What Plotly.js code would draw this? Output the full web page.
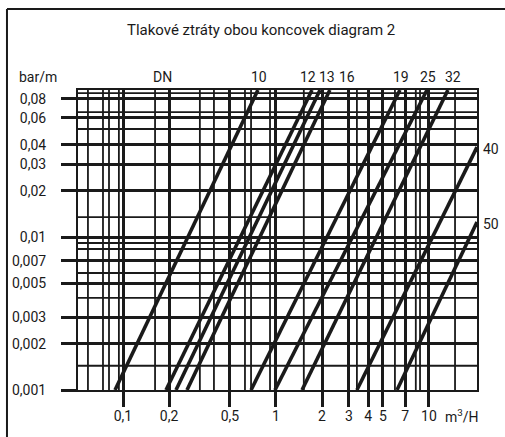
<!DOCTYPE html>
<html>
<head>
<meta charset="utf-8">
<script src="https://cdn.plot.ly/plotly-3.0.1.min.js"></script>
<style>html,body{margin:0;padding:0;background:#fff;}#chart{width:505px;height:437px;}</style>
</head>
<body>
<div id="chart"></div>
<script>
// Series: DN pipe sizes, each a straight line on log-log (flow m3/H vs loss bar/m)
const dnLabels = ['10', '12', '13', '16', '19', '25', '32', '40', '50'];
const flowStart = [0.0887, 0.191, 0.222, 0.262, 0.687, 0.985, 1.48, 3.38, 6.18];
const lossStart = [0.001, 0.001, 0.001, 0.001, 0.001, 0.001, 0.001, 0.001, 0.001];
const flowEnd = [0.762, 1.72, 1.94, 2.25, 6.46, 9.70, 13.3, 20.6, 20.6];
const lossEnd = [0.0914, 0.0914, 0.0914, 0.0914, 0.0914, 0.0914, 0.0914, 0.0387, 0.01253];

// Axis ticks
const xTickVals = [0.1, 0.2, 0.5, 1, 2, 3, 4, 5, 7, 10];
const xTickText = ['0,1', '0,2', '0,5', '1', '2', '3', '4', '5', '7', '10'];
const yTickVals = [0.001, 0.002, 0.003, 0.005, 0.007, 0.01, 0.02, 0.03, 0.04, 0.06, 0.08];
const yTickText = ['0,001', '0,002', '0,003', '0,005', '0,007', '0,01', '0,02', '0,03', '0,04', '0,06', '0,08'];
// Thin grid lines
const xMinorVals = [0.059, 0.074, 0.081, 0.094, 0.162, 0.318, 0.393, 0.627, 0.687, 0.914, 1.52, 3.38, 5.99, 8.2, 8.74, 14.8];
const yMinorVals = [0.00144, 0.004, 0.00582, 0.00835, 0.00914, 0.0135, 0.0508, 0.0656, 0.0873];
// Axis extents
const xMin = 0.0508, xMax = 20.6;
const yMin = 0.001, yMax = 0.0914;

// label placement config (pixels)
const topLabelShift = [1, -4, 7, 17, 1, 1, 5];

const font = 'Roboto, "Liberation Sans", Arial, sans-serif';
const ink = '#1a1a1a';
const fs = 14;

// thin grid as line traces
const gx = [], gy = [];
xMinorVals.forEach(v => { gx.push(v, v, null); gy.push(yMin, yMax, null); });
yMinorVals.forEach(v => { gx.push(xMin, xMax, null); gy.push(v, v, null); });
const gridTrace = {type: 'scatter', mode: 'lines', x: gx, y: gy, connectgaps: false,
  line: {color: ink, width: 1.8}, hoverinfo: 'skip', showlegend: false};

const traces = [gridTrace].concat(dnLabels.map((d, i) => ({
  type: 'scatter', mode: 'lines', name: 'DN ' + d,
  x: [flowStart[i], flowEnd[i]], y: [lossStart[i], lossEnd[i]],
  line: {color: ink, width: 3.6}, hoverinfo: 'skip', showlegend: false
})));

const annotations = [];
dnLabels.forEach((d, i) => {
  if (lossEnd[i] > 0.09) {
    annotations.push({xref: 'x', yref: 'paper', x: Math.log10(flowEnd[i]), y: 1.043,
      text: d, showarrow: false, xanchor: 'center', yanchor: 'middle', xshift: topLabelShift[i],
      font: {size: fs, color: ink, family: font}});
  } else {
    annotations.push({xref: 'paper', yref: 'y', x: 1, y: Math.log10(lossEnd[i]),
      text: d, showarrow: false, xanchor: 'left', yanchor: 'middle', xshift: 4, yshift: -2,
      font: {size: fs, color: ink, family: font}});
  }
});
annotations.push({xref: 'paper', yref: 'paper', x: -0.1, y: 1.043, text: 'bar/m', showarrow: false,
  xanchor: 'center', yanchor: 'middle', font: {size: fs, color: ink, family: font}});
annotations.push({xref: 'paper', yref: 'paper', x: 0.213, y: 1.043, text: 'DN', showarrow: false,
  xanchor: 'center', yanchor: 'middle', font: {size: fs, color: ink, family: font}});
annotations.push({xref: 'paper', yref: 'paper', x: 0.962, y: -0.088, text: 'm<sup>3</sup>/H', showarrow: false,
  xanchor: 'center', yanchor: 'middle', font: {size: fs, color: ink, family: font}});

const layout = {
  width: 505, height: 437,
  margin: {l: 78, r: 28, t: 90, b: 47},
  paper_bgcolor: '#fff', plot_bgcolor: '#fff',
  font: {family: font, size: fs, color: ink},
  title: {text: 'Tlakové ztráty obou koncovek diagram 2', x: 0.459, xref: 'paper', xanchor: 'center',
    y: 0.931, yref: 'container', yanchor: 'middle', font: {size: 15, color: ink, family: font}},
  xaxis: {type: 'log', range: [Math.log10(xMin), Math.log10(xMax)],
    tickmode: 'array', tickvals: xTickVals, ticktext: xTickText,
    ticks: 'outside', ticklen: 15, tickwidth: 3, tickcolor: ink, ticklabelstandoff: -3,
    showgrid: true, gridcolor: ink, gridwidth: 3,
    showline: true, mirror: true, linecolor: ink, linewidth: 2, zeroline: false,
    tickfont: {size: fs, color: ink, family: font}, fixedrange: true},
  yaxis: {type: 'log', range: [Math.log10(yMin), Math.log10(yMax)],
    tickmode: 'array', tickvals: yTickVals, ticktext: yTickText,
    ticks: 'outside', ticklen: 15, tickwidth: 3, tickcolor: ink, ticklabelstandoff: 12,
    showgrid: true, gridcolor: ink, gridwidth: 3,
    showline: true, mirror: true, linecolor: ink, linewidth: 2, zeroline: false,
    tickfont: {size: fs, color: ink, family: font}, fixedrange: true},
  shapes: [
    {type: 'line', xref: 'paper', yref: 'paper', x0: -0.178, x1: -0.178, y0: 1.27, y1: -0.2, line: {color: ink, width: 2}},
    {type: 'line', xref: 'paper', yref: 'paper', x0: -0.178, x1: 1.1, y0: 1.27, y1: 1.27, line: {color: ink, width: 2}}
  ],
  annotations: annotations,
  showlegend: false
};

Plotly.newPlot('chart', traces, layout, {staticPlot: true, displayModeBar: false});
</script>
</body>
</html>
